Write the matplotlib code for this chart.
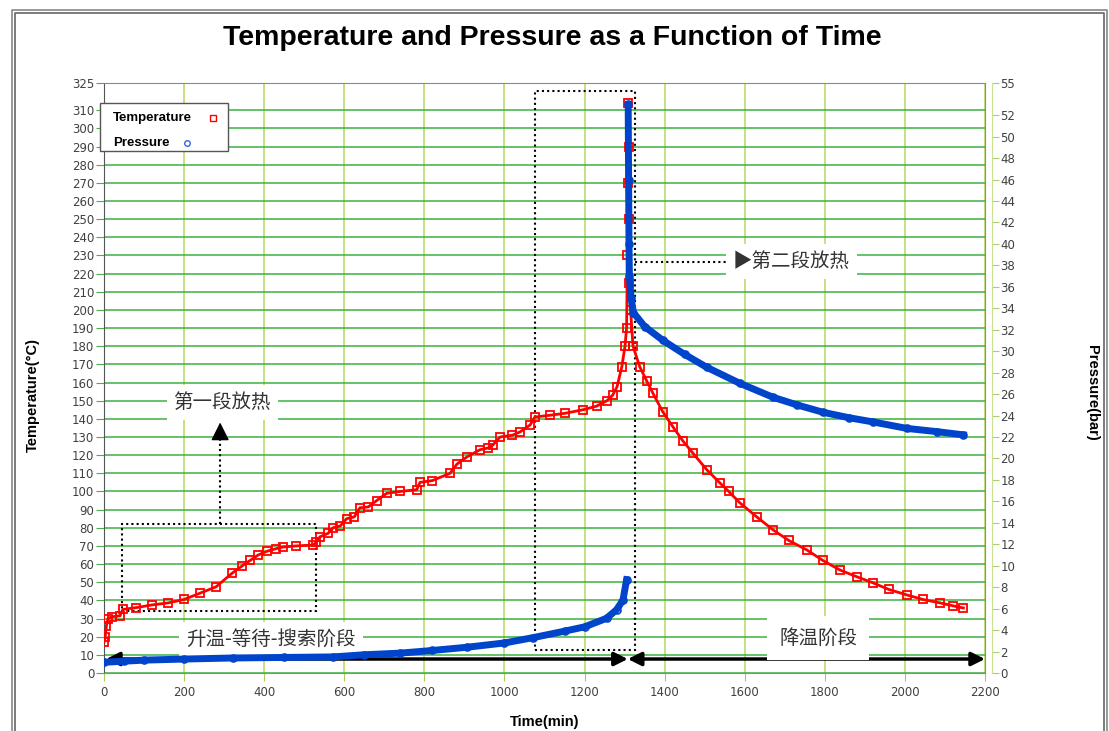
import matplotlib
matplotlib.use("Agg")
import matplotlib.pyplot as plt
from matplotlib.lines import Line2D
from matplotlib.patches import Rectangle

plt.rcParams["font.family"] = ["Liberation Sans", "DejaVu Sans"]
CJK = ["Noto Sans CJK SC", "DejaVu Sans"]

# temperature (deg C) vs time (min)
temp_time = [0, 3, 6, 10, 20, 40, 47, 80, 120, 160, 200, 240, 280, 320, 345,
             365, 385, 406, 430, 447, 480, 522, 530, 539, 560, 572, 590, 606,
             625, 639, 660, 681, 706, 740, 781, 789, 820, 864, 881, 906, 939,
             960, 971, 989, 1020, 1039, 1064, 1076, 1114, 1150, 1196, 1230,
             1256, 1270, 1281, 1293, 1301, 1305, 1307, 1308, 1309, 1310, 1311,
             1312, 1315, 1321, 1338, 1355, 1371, 1395, 1421, 1445, 1471, 1505,
             1538, 1560, 1588, 1630, 1671, 1710, 1755, 1795, 1838, 1880, 1921,
             1960, 2005, 2045, 2088, 2120, 2146]
temp_values = [17, 20, 26, 30, 31, 31.5, 35, 36, 37.5, 38.6, 40.5, 44, 47.5, 55,
               59, 62, 65, 67, 68.5, 69.4, 70, 70.5, 72, 75, 77, 80, 81, 85,
               86, 91, 91.5, 95, 99, 100, 101, 105, 106, 110, 115, 119, 123,
               124, 125.6, 130, 131, 132.8, 136.6, 141, 142, 143, 145, 147,
               150, 153, 157.6, 168.6, 180, 190, 230, 270, 314, 290, 250,
               215, 200, 180, 168.6, 161, 154, 144, 135.5, 128, 121, 112,
               104.7, 100, 93.7, 86, 78.8, 73, 67.8, 62, 56.7, 53, 49.6,
               46, 43, 40.5, 38.6, 37, 35.8]

# pressure (bar) before the second exotherm
pres_time_rise = [0, 50, 100, 200, 322, 450, 572, 650, 739, 820, 906, 1000,
                  1072, 1150, 1200, 1255, 1280, 1296, 1305]
pres_values_rise = [1.0, 1.1, 1.2, 1.3, 1.4, 1.45, 1.5, 1.7, 1.85, 2.1, 2.4,
                    2.8, 3.3, 3.9, 4.3, 5.1, 5.9, 6.8, 8.7]

# pressure (bar) from the burst onwards
pres_time_fall = [1309, 1310, 1311, 1312, 1316, 1322, 1350, 1396, 1450, 1505,
                  1588, 1671, 1730, 1796, 1860, 1921, 2005, 2080, 2146]
pres_values_fall = [53, 46, 40, 37, 35, 33.6, 32.3, 31, 29.7, 28.5, 27, 25.7,
                    25, 24.3, 23.8, 23.4, 22.8, 22.5, 22.2]

temp_ticks = list(range(0, 320, 10)) + [325]
pres_ticks = list(range(0, 54, 2)) + [55]
time_ticks = list(range(0, 2201, 200))

W, H = 1109, 731
fig = plt.figure(figsize=(W / 100, H / 100), dpi=100)
ax = fig.add_axes([104 / W, 1 - 673 / H, (985 - 104) / W, (673 - 83) / H])
ax2 = ax.twinx()

ax.set_xlim(0, 2200)
ax.set_ylim(0, 325)
ax2.set_ylim(0, 55)
ax.set_xticks(time_ticks)
ax.set_yticks(temp_ticks)
ax2.set_yticks(pres_ticks)

ax.grid(True, axis="y", color="#3db03d", lw=1.1)
ax.grid(True, axis="x", color="#b5da5a", lw=1.1)
ax.set_axisbelow(True)

for side in ["top", "right", "bottom"]:
    ax.spines[side].set_color("#8a8a8a")
ax.spines["left"].set_color("#555555")
ax2.spines["right"].set_position(("outward", 5))
ax2.spines["right"].set_color("#c8e290")
for side in ["top", "left", "bottom"]:
    ax2.spines[side].set_visible(False)

ax.tick_params(axis="y", colors="#4cae4c", length=6, labelcolor="#404040",
               labelsize=8.5, pad=1)
ax.tick_params(axis="x", colors="#a8d050", length=6, labelcolor="#404040",
               labelsize=8.5, pad=3)
ax2.tick_params(axis="y", colors="#a8d070", length=5, labelcolor="#404040",
                labelsize=8.5, pad=1)
for lab in ax.get_xticklabels() + ax.get_yticklabels() + ax2.get_yticklabels():
    lab.set_family("DejaVu Sans")

# data
ax.plot(temp_time, temp_values, color="red", lw=2, marker="s", ms=6,
        mfc="none", mew=1.3, zorder=3)
ax2.plot(pres_time_rise, pres_values_rise, color="#0044cc", lw=5, marker="o",
         ms=5, mfc="none", mew=1.2, zorder=3)
ax2.plot(pres_time_fall, pres_values_fall, color="#0044cc", lw=5, marker="o",
         ms=5, mfc="none", mew=1.2, zorder=3)

# annotations
dot = (0, (1, 1.5))
ax.add_patch(Rectangle((44, 34), 485, 48, fill=False, ls=dot, lw=1.5,
                       ec="black", zorder=2))
ax.add_patch(Rectangle((1076, 12.7), 250, 308, fill=False, ls=dot, lw=1.5,
                       ec="black", zorder=2))
ax.plot([290, 290], [82, 131], ls=dot, lw=1.5, color="black", zorder=2)
ax.annotate("", xy=(290, 138), xytext=(290, 130),
            arrowprops=dict(arrowstyle="-|>", lw=1, color="black",
                            mutation_scale=28, shrinkA=0, shrinkB=0))
ax.plot([1326, 1570], [226.6, 226.6], ls=dot, lw=1.5, color="black", zorder=2)

box = dict(boxstyle="square,pad=0.35", fc="white", ec="none")
ax.text(295, 149, "第一段放热", family=CJK, fontsize=14, color="#333333",
        ha="center", va="center", bbox=box, zorder=4)
ax.text(1570, 226.6, "▶第二段放热", family=CJK, fontsize=14, color="#333333",
        ha="left", va="center", bbox=box, zorder=4)
ax.text(417, 18.5, "升温-等待-搜索阶段", family=CJK, fontsize=14, color="#333333",
        ha="center", va="center", bbox=box, zorder=4)
ax.text(1783, 19.3, "降温阶段", family=CJK, fontsize=14, color="#333333",
        ha="center", va="center",
        bbox=dict(boxstyle="square,pad=0.6", fc="white", ec="none"), zorder=4)

arrow = dict(arrowstyle="<|-|>", lw=2.5, color="black", mutation_scale=20,
             shrinkA=0, shrinkB=0)
ax.annotate("", xy=(5, 7.7), xytext=(1308, 7.7), arrowprops=arrow, zorder=2)
ax.annotate("", xy=(1308, 7.7), xytext=(2200, 7.7), arrowprops=arrow, zorder=2)

# legend, drawn by hand so the labels stay left aligned
fig.add_artist(Rectangle((100 / W, 1 - 151 / H), 128 / W, 48 / H, fill=True,
                         fc="white", ec="#555555", lw=1.0,
                         transform=fig.transFigure, zorder=10))
legend_rows = [("Temperature", 118, 213, "s", "red"),
               ("Pressure", 143, 187, "o", "#3366dd")]
for label, py, mx, mk, mc in legend_rows:
    fig.text(113 / W, 1 - py / H, label, ha="left", va="center", fontsize=9.5,
             weight="bold", zorder=11)
    fig.add_artist(Line2D([mx / W], [1 - py / H], ls="none", marker=mk, ms=4,
                          mfc="none", mec=mc, transform=fig.transFigure,
                          zorder=11))

# titles
fig.text(552 / W, 1 - 38 / H, "Temperature and Pressure as a Function of Time",
         ha="center", va="center", fontsize=20.5, weight="bold")
fig.text(33 / W, 1 - 395 / H, "Temperature(°C)", rotation=90, ha="center",
         va="center", fontsize=10.5, weight="bold")
fig.text(1092 / W, 1 - 393 / H, "Pressure(bar)", rotation=270, ha="center",
         va="center", fontsize=10.5, weight="bold")
fig.text(545 / W, 1 - 722 / H, "Time(min)", ha="center", va="center",
         fontsize=10.5, weight="bold")

# window frame
for x0, y0, x1, c in [(11.5, 9.5, 1106.5, "#888888"), (14.5, 12.5, 1103.5, "#666666")]:
    fig.add_artist(Line2D([x0 / W, x0 / W, x1 / W, x1 / W],
                          [0, 1 - y0 / H, 1 - y0 / H, 0],
                          color=c, lw=1.2, transform=fig.transFigure))

fig.savefig("out.png", dpi=100)
